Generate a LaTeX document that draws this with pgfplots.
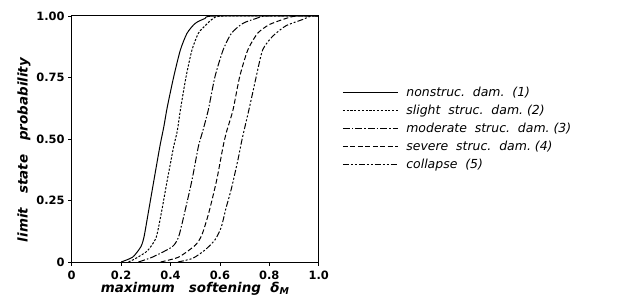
\documentclass[border=0pt]{standalone}
\usepackage{pgfplots}
\pgfplotsset{compat=1.18}
\usepackage{fontspec}
\setmainfont{DejaVu Sans}
\begin{document}
\begin{tikzpicture}
\useasboundingbox (-71.7bp,-35bp) rectangle (550.3bp,262bp);
\begin{axis}[
  at={(0,0)}, anchor=south west,
  scale only axis, width=247bp, height=246bp,
  xmin=0, xmax=1, ymin=0, ymax=1,
  xtick={0,0.2,0.4,0.6,0.8,1.0},
  xticklabels={0,0.2,0.4,0.6,0.8,1.0},
  ytick={0,0.25,0.5,0.75,1},
  yticklabels={0,0.25,0.50,0.75,1.00},
  /pgf/number format/assume math mode=true,
  tick pos=left, tick align=outside,
  major tick length=3.5bp,
  every tick/.style={black, line width=0.8pt},
  ticklabel style={font=\fontsize{11.5}{12}\selectfont\bfseries},
  xticklabel style={yshift=-2bp},
  axis line style={line width=1pt},
  xlabel={\bfseries\itshape maximum\ \ \ softening\ \ δ\textsubscript{\itshape M}},
  ylabel={\bfseries\itshape limit\ \ \ state\ \ \ probability},
  label style={font=\fontsize{13.5}{14}\selectfont},
  xlabel style={yshift=4.5bp},
  ylabel style={yshift=-1bp, xshift=-11bp},
  legend style={at={(1.095,0.72)}, anchor=north west, draw=none, fill=none,
    font=\fontsize{12.5}{13}\selectfont\itshape, row sep=3bp, column sep=6bp,
    inner sep=0pt},
  legend cell align=left,
  legend image code/.code={\draw[#1] (0bp,0bp) -- (55bp,0bp);},
  every axis plot/.append style={black, line width=1pt, smooth, tension=0.4},
]
\addplot[solid] coordinates {(0.20,0) (0.247,0.02) (0.28,0.062) (0.293,0.103) (0.31,0.2) (0.333,0.333) (0.357,0.47) (0.373,0.55) (0.387,0.63) (0.413,0.753) (0.44,0.862) (0.467,0.93) (0.50,0.97) (0.54,0.99) (0.58,1.0) (1.0,1.0)};
\addlegendentry{nonstruc.\ \ dam.\ \ (1)}
\addplot[dash pattern=on 2.2pt off 1.6pt] coordinates {(0.23,0) (0.26,0.015) (0.30,0.04) (0.32,0.062) (0.343,0.103) (0.363,0.2) (0.387,0.333) (0.413,0.47) (0.427,0.53) (0.44,0.618) (0.463,0.753) (0.487,0.862) (0.513,0.93) (0.54,0.96) (0.573,0.99) (0.62,1) (1,1)};
\addlegendentry{slight\ \ struc.\ \ dam.\ (2)}
\addplot[dash pattern=on 7pt off 2pt on 1.5pt off 2pt] coordinates {(0.27,0) (0.327,0.02) (0.407,0.062) (0.433,0.103) (0.457,0.2) (0.487,0.333) (0.513,0.47) (0.53,0.53) (0.553,0.618) (0.58,0.753) (0.613,0.862) (0.647,0.93) (0.693,0.97) (0.747,0.99) (0.79,1) (1,1)};
\addlegendentry{moderate\ \ struc.\ \ dam.\ (3)}
\addplot[dash pattern=on 5pt off 2.5pt] coordinates {(0.36,0) (0.433,0.02) (0.5,0.068) (0.527,0.11) (0.555,0.2) (0.587,0.333) (0.613,0.47) (0.627,0.53) (0.653,0.618) (0.68,0.753) (0.713,0.862) (0.753,0.93) (0.8,0.965) (0.867,0.99) (0.91,1) (1,1)};
\addlegendentry{severe\ \ struc.\ \ dam.\ (4)}
\addplot[dash pattern=on 6pt off 2pt on 2pt off 2pt on 2pt off 2pt] coordinates {(0.43,0) (0.49,0.015) (0.54,0.049) (0.58,0.09) (0.605,0.14) (0.625,0.22) (0.647,0.3) (0.674,0.42) (0.69,0.5) (0.72,0.63) (0.747,0.753) (0.773,0.862) (0.813,0.917) (0.867,0.96) (0.933,0.985) (0.97,1) (1,1)};
\addlegendentry{collapse\ \ (5)}
\end{axis}
\end{tikzpicture}
\end{document}
